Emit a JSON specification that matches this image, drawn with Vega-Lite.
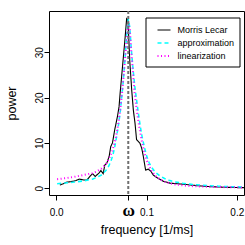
{
  "$schema": "https://vega.github.io/schema/vega-lite/v6.json",
  "autosize": "none",
  "width": 195,
  "height": 184,
  "padding": {"left": 49, "top": 11, "right": 1, "bottom": 50},
  "background": "white",
  "config": {
    "view": {"stroke": "black", "strokeWidth": 1},
    "font": "Liberation Sans",
    "axis": {
      "grid": false, "domain": false, "ticks": true, "tickColor": "black", "tickSize": 5, "tickWidth": 1,
      "labelColor": "black", "titleColor": "black", "labelFont": "Liberation Sans", "titleFont": "Liberation Sans",
      "titleFontWeight": "normal", "titleFontSize": 12.5, "labelFontSize": 10
    }
  },
  "data": {"values": [
    {"series": "Morris Lecar", "f": 0.004, "p": 0.7},
    {"series": "Morris Lecar", "f": 0.008, "p": 1.0},
    {"series": "Morris Lecar", "f": 0.011, "p": 1.3},
    {"series": "Morris Lecar", "f": 0.0165, "p": 1.45},
    {"series": "Morris Lecar", "f": 0.022, "p": 1.7},
    {"series": "Morris Lecar", "f": 0.0256, "p": 2.0},
    {"series": "Morris Lecar", "f": 0.031, "p": 1.8},
    {"series": "Morris Lecar", "f": 0.034, "p": 1.8},
    {"series": "Morris Lecar", "f": 0.0377, "p": 2.7},
    {"series": "Morris Lecar", "f": 0.0403, "p": 3.2},
    {"series": "Morris Lecar", "f": 0.0432, "p": 2.6},
    {"series": "Morris Lecar", "f": 0.0476, "p": 3.4},
    {"series": "Morris Lecar", "f": 0.0495, "p": 3.9},
    {"series": "Morris Lecar", "f": 0.052, "p": 3.2},
    {"series": "Morris Lecar", "f": 0.0538, "p": 5.1},
    {"series": "Morris Lecar", "f": 0.056, "p": 5.5},
    {"series": "Morris Lecar", "f": 0.0586, "p": 7.0},
    {"series": "Morris Lecar", "f": 0.0604, "p": 9.2},
    {"series": "Morris Lecar", "f": 0.0623, "p": 10.0},
    {"series": "Morris Lecar", "f": 0.0648, "p": 12.9},
    {"series": "Morris Lecar", "f": 0.0678, "p": 15.8},
    {"series": "Morris Lecar", "f": 0.0696, "p": 18.0},
    {"series": "Morris Lecar", "f": 0.0708, "p": 21.0},
    {"series": "Morris Lecar", "f": 0.0735, "p": 27.0},
    {"series": "Morris Lecar", "f": 0.076, "p": 32.5},
    {"series": "Morris Lecar", "f": 0.078, "p": 37.4},
    {"series": "Morris Lecar", "f": 0.0795, "p": 37.0},
    {"series": "Morris Lecar", "f": 0.0815, "p": 28.0},
    {"series": "Morris Lecar", "f": 0.0836, "p": 21.7},
    {"series": "Morris Lecar", "f": 0.0854, "p": 17.3},
    {"series": "Morris Lecar", "f": 0.0873, "p": 14.3},
    {"series": "Morris Lecar", "f": 0.089, "p": 10.7},
    {"series": "Morris Lecar", "f": 0.0928, "p": 9.9},
    {"series": "Morris Lecar", "f": 0.0947, "p": 8.8},
    {"series": "Morris Lecar", "f": 0.0965, "p": 7.0},
    {"series": "Morris Lecar", "f": 0.099, "p": 4.0},
    {"series": "Morris Lecar", "f": 0.102, "p": 4.2},
    {"series": "Morris Lecar", "f": 0.105, "p": 3.7},
    {"series": "Morris Lecar", "f": 0.1075, "p": 2.9},
    {"series": "Morris Lecar", "f": 0.111, "p": 2.4},
    {"series": "Morris Lecar", "f": 0.1146, "p": 2.0},
    {"series": "Morris Lecar", "f": 0.119, "p": 1.5},
    {"series": "Morris Lecar", "f": 0.1264, "p": 1.1},
    {"series": "Morris Lecar", "f": 0.141, "p": 0.88},
    {"series": "Morris Lecar", "f": 0.1557, "p": 0.57},
    {"series": "Morris Lecar", "f": 0.17, "p": 0.35},
    {"series": "Morris Lecar", "f": 0.185, "p": 0.22},
    {"series": "Morris Lecar", "f": 0.2, "p": 0.14},
    {"series": "Morris Lecar", "f": 0.21, "p": 0.12},
    {"series": "approximation", "f": 0.001, "p": 1.0},
    {"series": "approximation", "f": 0.01, "p": 1.15},
    {"series": "approximation", "f": 0.02, "p": 1.35},
    {"series": "approximation", "f": 0.03, "p": 1.6},
    {"series": "approximation", "f": 0.04, "p": 2.0},
    {"series": "approximation", "f": 0.045, "p": 2.4},
    {"series": "approximation", "f": 0.05, "p": 2.9},
    {"series": "approximation", "f": 0.055, "p": 3.9},
    {"series": "approximation", "f": 0.058, "p": 4.8},
    {"series": "approximation", "f": 0.061, "p": 6.2},
    {"series": "approximation", "f": 0.063, "p": 7.5},
    {"series": "approximation", "f": 0.065, "p": 9.3},
    {"series": "approximation", "f": 0.067, "p": 11.5},
    {"series": "approximation", "f": 0.069, "p": 14.0},
    {"series": "approximation", "f": 0.071, "p": 17.0},
    {"series": "approximation", "f": 0.0725, "p": 20.0},
    {"series": "approximation", "f": 0.074, "p": 23.0},
    {"series": "approximation", "f": 0.076, "p": 28.0},
    {"series": "approximation", "f": 0.078, "p": 33.5},
    {"series": "approximation", "f": 0.0798, "p": 37.3},
    {"series": "approximation", "f": 0.0815, "p": 35.5},
    {"series": "approximation", "f": 0.083, "p": 31.0},
    {"series": "approximation", "f": 0.085, "p": 26.5},
    {"series": "approximation", "f": 0.087, "p": 22.5},
    {"series": "approximation", "f": 0.089, "p": 19.5},
    {"series": "approximation", "f": 0.091, "p": 16.5},
    {"series": "approximation", "f": 0.093, "p": 13.8},
    {"series": "approximation", "f": 0.095, "p": 11.5},
    {"series": "approximation", "f": 0.0975, "p": 9.2},
    {"series": "approximation", "f": 0.1, "p": 7.2},
    {"series": "approximation", "f": 0.103, "p": 5.6},
    {"series": "approximation", "f": 0.106, "p": 4.5},
    {"series": "approximation", "f": 0.11, "p": 3.5},
    {"series": "approximation", "f": 0.115, "p": 2.7},
    {"series": "approximation", "f": 0.12, "p": 2.15},
    {"series": "approximation", "f": 0.125, "p": 1.75},
    {"series": "approximation", "f": 0.13, "p": 1.45},
    {"series": "approximation", "f": 0.14, "p": 1.1},
    {"series": "approximation", "f": 0.15, "p": 0.85},
    {"series": "approximation", "f": 0.16, "p": 0.68},
    {"series": "approximation", "f": 0.17, "p": 0.54},
    {"series": "approximation", "f": 0.18, "p": 0.44},
    {"series": "approximation", "f": 0.19, "p": 0.36},
    {"series": "approximation", "f": 0.2, "p": 0.3},
    {"series": "approximation", "f": 0.21, "p": 0.25},
    {"series": "linearization", "f": 0.001, "p": 2.0},
    {"series": "linearization", "f": 0.01, "p": 2.2},
    {"series": "linearization", "f": 0.02, "p": 2.5},
    {"series": "linearization", "f": 0.03, "p": 2.9},
    {"series": "linearization", "f": 0.04, "p": 3.3},
    {"series": "linearization", "f": 0.045, "p": 3.7},
    {"series": "linearization", "f": 0.05, "p": 4.3},
    {"series": "linearization", "f": 0.055, "p": 5.3},
    {"series": "linearization", "f": 0.058, "p": 6.3},
    {"series": "linearization", "f": 0.061, "p": 7.6},
    {"series": "linearization", "f": 0.063, "p": 8.8},
    {"series": "linearization", "f": 0.065, "p": 10.3},
    {"series": "linearization", "f": 0.067, "p": 12.2},
    {"series": "linearization", "f": 0.069, "p": 14.6},
    {"series": "linearization", "f": 0.071, "p": 17.5},
    {"series": "linearization", "f": 0.073, "p": 21.2},
    {"series": "linearization", "f": 0.075, "p": 25.5},
    {"series": "linearization", "f": 0.077, "p": 30.5},
    {"series": "linearization", "f": 0.079, "p": 35.0},
    {"series": "linearization", "f": 0.08, "p": 36.5},
    {"series": "linearization", "f": 0.0815, "p": 35.0},
    {"series": "linearization", "f": 0.083, "p": 30.5},
    {"series": "linearization", "f": 0.085, "p": 25.5},
    {"series": "linearization", "f": 0.0865, "p": 21.5},
    {"series": "linearization", "f": 0.089, "p": 17.5},
    {"series": "linearization", "f": 0.091, "p": 14.8},
    {"series": "linearization", "f": 0.093, "p": 12.3},
    {"series": "linearization", "f": 0.095, "p": 10.2},
    {"series": "linearization", "f": 0.0975, "p": 8.0},
    {"series": "linearization", "f": 0.1, "p": 6.3},
    {"series": "linearization", "f": 0.103, "p": 4.8},
    {"series": "linearization", "f": 0.106, "p": 3.7},
    {"series": "linearization", "f": 0.11, "p": 2.7},
    {"series": "linearization", "f": 0.115, "p": 1.95},
    {"series": "linearization", "f": 0.12, "p": 1.45},
    {"series": "linearization", "f": 0.125, "p": 1.1},
    {"series": "linearization", "f": 0.13, "p": 0.9},
    {"series": "linearization", "f": 0.14, "p": 0.62},
    {"series": "linearization", "f": 0.15, "p": 0.47},
    {"series": "linearization", "f": 0.16, "p": 0.38},
    {"series": "linearization", "f": 0.17, "p": 0.31},
    {"series": "linearization", "f": 0.18, "p": 0.26},
    {"series": "linearization", "f": 0.19, "p": 0.22},
    {"series": "linearization", "f": 0.2, "p": 0.19},
    {"series": "linearization", "f": 0.21, "p": 0.17}
  ]},
  "layer": [
    {
      "mark": {"type": "line", "clip": true, "interpolate": "linear"},
      "encoding": {
        "x": {"field": "f", "type": "quantitative",
          "scale": {"domain": [-0.008, 0.208], "nice": false, "zero": false},
          "axis": {"values": [0, 0.0798, 0.1, 0.2], "title": "frequency [1/ms]",
            "labelExpr": "abs(datum.value-0.0798)<0.001 ? 'ω' : format(datum.value,'.1f')",
            "labelFont": {"condition": {"test": "abs(datum.value-0.0798)<0.001", "value": "Liberation Serif"}, "value": "Liberation Sans"},
            "labelFontSize": {"condition": {"test": "abs(datum.value-0.0798)<0.001", "value": 17}, "value": 10},
            "labelFontWeight": {"condition": {"test": "abs(datum.value-0.0798)<0.001", "value": "bold"}, "value": "normal"},
            "labelBaseline": "alphabetic", "labelPadding": 15, "labelAlign": "center", "labelFlush": false, "labelOverlap": false,
            "titleBaseline": "alphabetic", "titleY": 38, "titleX": 97.5, "titleAlign": "center"}},
        "y": {"field": "p", "type": "quantitative",
          "scale": {"domain": [-1.5, 39.1], "nice": false, "zero": false},
          "axis": {"values": [0, 10, 20, 30], "title": "power", "labelAngle": -90, "labelAlign": "center",
            "labelBaseline": "alphabetic", "labelPadding": 2, "labelFlush": false, "labelOverlap": false,
            "titleBaseline": "alphabetic", "titleAngle": -90, "titleX": -33.5, "titleY": 92, "titleAlign": "center"}},
        "color": {"field": "series", "type": "nominal",
          "scale": {"domain": ["Morris Lecar", "approximation", "linearization"], "range": ["#000000", "#00FFFF", "#FF00FF"]},
          "legend": {"orient": "none", "legendX": 96.5, "legendY": 6.5, "title": null, "strokeColor": "black", "fillColor": "white",
            "padding": 5, "symbolType": "stroke", "symbolSize": 169, "symbolOffset": 6, "labelFont": "Liberation Sans",
            "labelFontSize": 9, "labelColor": "black", "labelOffset": 6, "rowPadding": 0, "cornerRadius": 0}},
        "strokeDash": {"field": "series", "type": "nominal",
          "scale": {"domain": ["Morris Lecar", "approximation", "linearization"], "range": [[1, 0], [4, 3], [1, 2.5]]}},
        "strokeWidth": {"field": "series", "type": "nominal",
          "scale": {"domain": ["Morris Lecar", "approximation", "linearization"], "range": [1.1, 2, 2]}}
      }
    },
    {
      "data": {"values": [{"omega": 0.0798}]},
      "mark": {"type": "rule", "color": "#707070", "strokeWidth": 2, "strokeDash": [3, 2]},
      "encoding": {"x": {"field": "omega", "type": "quantitative"}}
    }
  ]
}
